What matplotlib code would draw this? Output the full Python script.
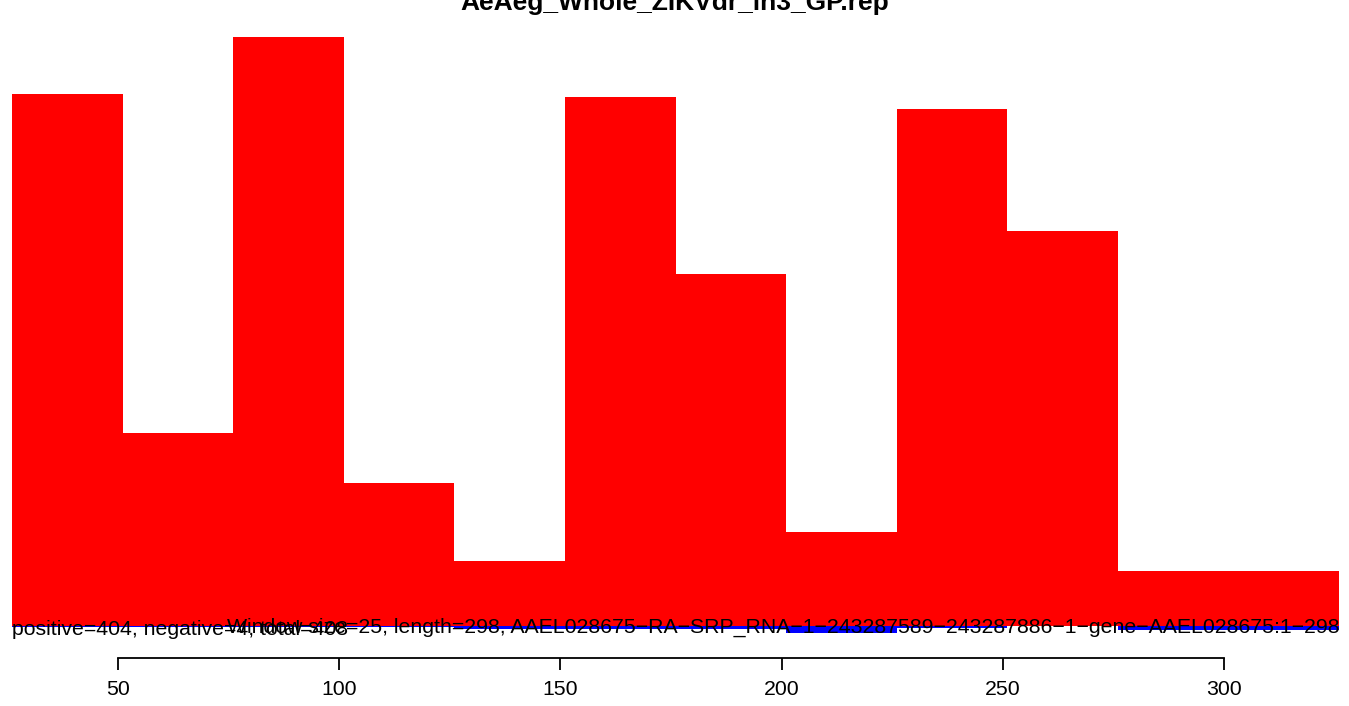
import matplotlib
matplotlib.use("Agg")
import matplotlib.pyplot as plt

plt.rcParams['font.family'] = ['Liberation Sans', 'DejaVu Sans']

# Read coverage in 25-nt windows along the 298-nt transcript
bin_starts = [26, 51, 76, 101, 126, 151, 176, 201, 226, 251, 276, 301]
window = 25
positive = [532, 193, 589, 143, 65, 529, 352, 94, 517, 395, 55, 55]
negative = [-1, -1, -1, -1, -3, -3, -3, -7, -2, 0, -4, -4]
x_ticks = [50, 100, 150, 200, 250, 300]

title = "AeAeg_Whole_ZIKVdr_in3_GP.rep"
stats_text = "positive=404, negative=4, total=408"
info_text = ("Window size=25, length=298, "
             "AAEL028675\u2212RA\u2212SRP_RNA\u22121\u2212243287589\u2212243287886"
             "\u22121\u2212gene\u2212AAEL028675:1\u2212298")

W, H = 1349, 706
fig = plt.figure(figsize=(W / 100, H / 100), dpi=100)
ax = fig.add_axes([12 / W, 1 - 645 / H, 1327 / W, 625 / H])

ax.bar(bin_starts, positive, width=window, align='edge', color='#ff0000', linewidth=0)
ax.bar(bin_starts, negative, width=window, align='edge', color='#0000ff', linewidth=0)

ax.set_xlim(26, 326)
ax.set_ylim(-19, 606)

for s in ['top', 'right', 'left']:
    ax.spines[s].set_visible(False)
ax.spines['bottom'].set_position(('data', -32))
ax.spines['bottom'].set_bounds(50, 300)
ax.spines['bottom'].set_linewidth(1.3)
ax.set_yticks([])
ax.set_xticks(x_ticks)
ax.set_xticklabels([str(t) for t in x_ticks])
ax.tick_params(axis='x', direction='out', length=8.6, width=1.3, pad=7, labelsize=15.3)
ax.patch.set_visible(False)

ax.text(26, -9, stats_text, ha='left', va='baseline', fontsize=15.3, color='black')
ax.text(326, -7, info_text, ha='right', va='baseline', fontsize=15.3, color='black')

fig.text(0.5, 1 - 10 / H, title, ha='center', va='baseline', fontsize=19,
         fontweight='bold')

fig.savefig("out.png", dpi=100)
